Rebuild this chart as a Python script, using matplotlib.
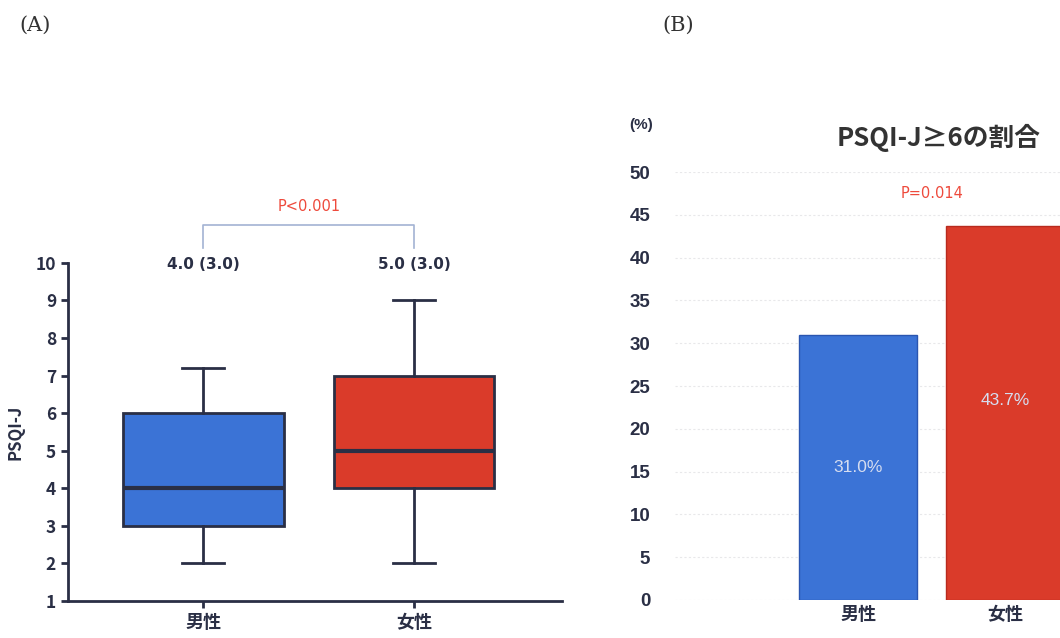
import numpy as np
import matplotlib.pyplot as plt

plt.rcParams['font.family'] = ['Noto Sans CJK JP', 'DejaVu Sans']

# panel A: box plot of PSQI-J by sex
groups = ['男性', '女性']
medians = [4.0, 5.0]
q1 = [3.0, 4.0]
q3 = [6.0, 7.0]
whis_lo = [2.0, 2.0]
whis_hi = [7.2, 9.0]
box_labels = ['4.0 (3.0)', '5.0 (3.0)']
p_a = 'P<0.001'
yticks_a = list(range(1, 11))

# panel B: share of PSQI-J >= 6
pct = [31.0, 43.7]
pct_labels = ['31.0%', '43.7%']
p_b = 'P=0.014'
yticks_b = list(range(0, 55, 5))

blue = '#3b73d6'
red = '#da3b2a'
navy = '#2a2f45'
pred = '#ee4a3c'

fig = plt.figure(figsize=(10.6, 6.38), dpi=100)

# ---------------- panel A
ax = fig.add_axes([0.064, 0.058, 0.466, 0.53])
stats = []
for i in range(len(groups)):
    stats.append(dict(med=medians[i], q1=q1[i], q3=q3[i],
                      whislo=whis_lo[i], whishi=whis_hi[i], fliers=[]))
bp = ax.bxp(stats, positions=[1, 2], widths=0.76, patch_artist=True,
            showfliers=False,
            boxprops=dict(edgecolor=navy, linewidth=2),
            medianprops=dict(color=navy, linewidth=3),
            whiskerprops=dict(color=navy, linewidth=2),
            capprops=dict(color=navy, linewidth=2),
            capwidths=0.2)
for patch, c in zip(bp['boxes'], [blue, red]):
    patch.set_facecolor(c)

ax.set_xlim(0.357, 2.7)
ax.set_ylim(1, 10)
ax.set_yticks(yticks_a)
ax.set_xticks([1, 2])
ax.set_xticklabels(groups, fontsize=13, fontweight='bold', color=navy)
ax.tick_params(axis='y', labelsize=12.5, colors=navy, width=2, length=5)
ax.tick_params(axis='x', colors=navy, width=2, length=5)
for lbl in ax.get_yticklabels():
    lbl.set_fontweight('bold')
for s in ['top', 'right']:
    ax.spines[s].set_visible(False)
for s in ['left', 'bottom']:
    ax.spines[s].set_linewidth(2)
    ax.spines[s].set_color(navy)
ax.set_ylabel('PSQI-J', fontsize=12, fontweight='bold', color=navy, labelpad=8)

for i, t in enumerate(box_labels):
    ax.text(i + 1, 9.95, t, ha='center', va='center', fontsize=11,
            fontweight='bold', color=navy, clip_on=False, family='DejaVu Sans')
ax.plot([1, 1, 2, 2], [10.4, 11.0, 11.0, 10.4], color='#a3b3d3', lw=1.2,
        clip_on=False)
ax.text(1.5, 11.5, p_a, ha='center', va='center', fontsize=10.5, color=pred,
        clip_on=False, family='DejaVu Sans')

# ---------------- panel B
bx = fig.add_axes([0.637, 0.0596, 0.363, 0.6706])
xb = np.arange(len(groups))
bx.bar(xb, pct, width=0.8, color=[blue, red],
       edgecolor=['#2a55b0', '#b82a1e'], linewidth=1, zorder=2)
bx.set_xlim(-1.245, 1.374)
bx.set_ylim(0, 50)
bx.set_yticks(yticks_b)
bx.yaxis.grid(True, color='#e8e8ea', lw=0.8, linestyle=(0, (2, 2)), zorder=0)
bx.set_xticks(xb)
bx.set_xticklabels(groups, fontsize=13, fontweight='bold', color=navy)
bx.tick_params(axis='both', length=0)
bx.tick_params(axis='y', labelsize=13.5, colors=navy, pad=18)
for lbl in bx.get_yticklabels():
    lbl.set_family('Liberation Sans')
    lbl.set_fontweight('bold')
for s in bx.spines.values():
    s.set_visible(False)
for i, t in enumerate(pct_labels):
    bx.text(xb[i], pct[i] / 2 + (0 if i == 0 else 1.5), t, ha='center',
            va='center', fontsize=12.5, color='#d6ddf0', family='Liberation Sans')
bx.text(0.5, 47.5, p_b, ha='center', va='center', fontsize=10.5, color=pred,
        family='DejaVu Sans')
bx.text(0.55, 54.0, 'PSQI-J≥6の割合', ha='center', va='center', fontsize=18.5,
        fontweight='bold', color='#333333', clip_on=False)
bx.text(-1.48, 55.5, '(%)', ha='center', va='center', fontsize=11,
        fontweight='bold', color=navy, clip_on=False, family='Liberation Sans')

# panel letters
fig.text(0.033, 0.96, '(A)', fontsize=15, family='DejaVu Serif', color='#333333',
         ha='center', va='center')
fig.text(0.64, 0.96, '(B)', fontsize=15, family='DejaVu Serif', color='#333333',
         ha='center', va='center')

fig.savefig('out.png', dpi=100)
